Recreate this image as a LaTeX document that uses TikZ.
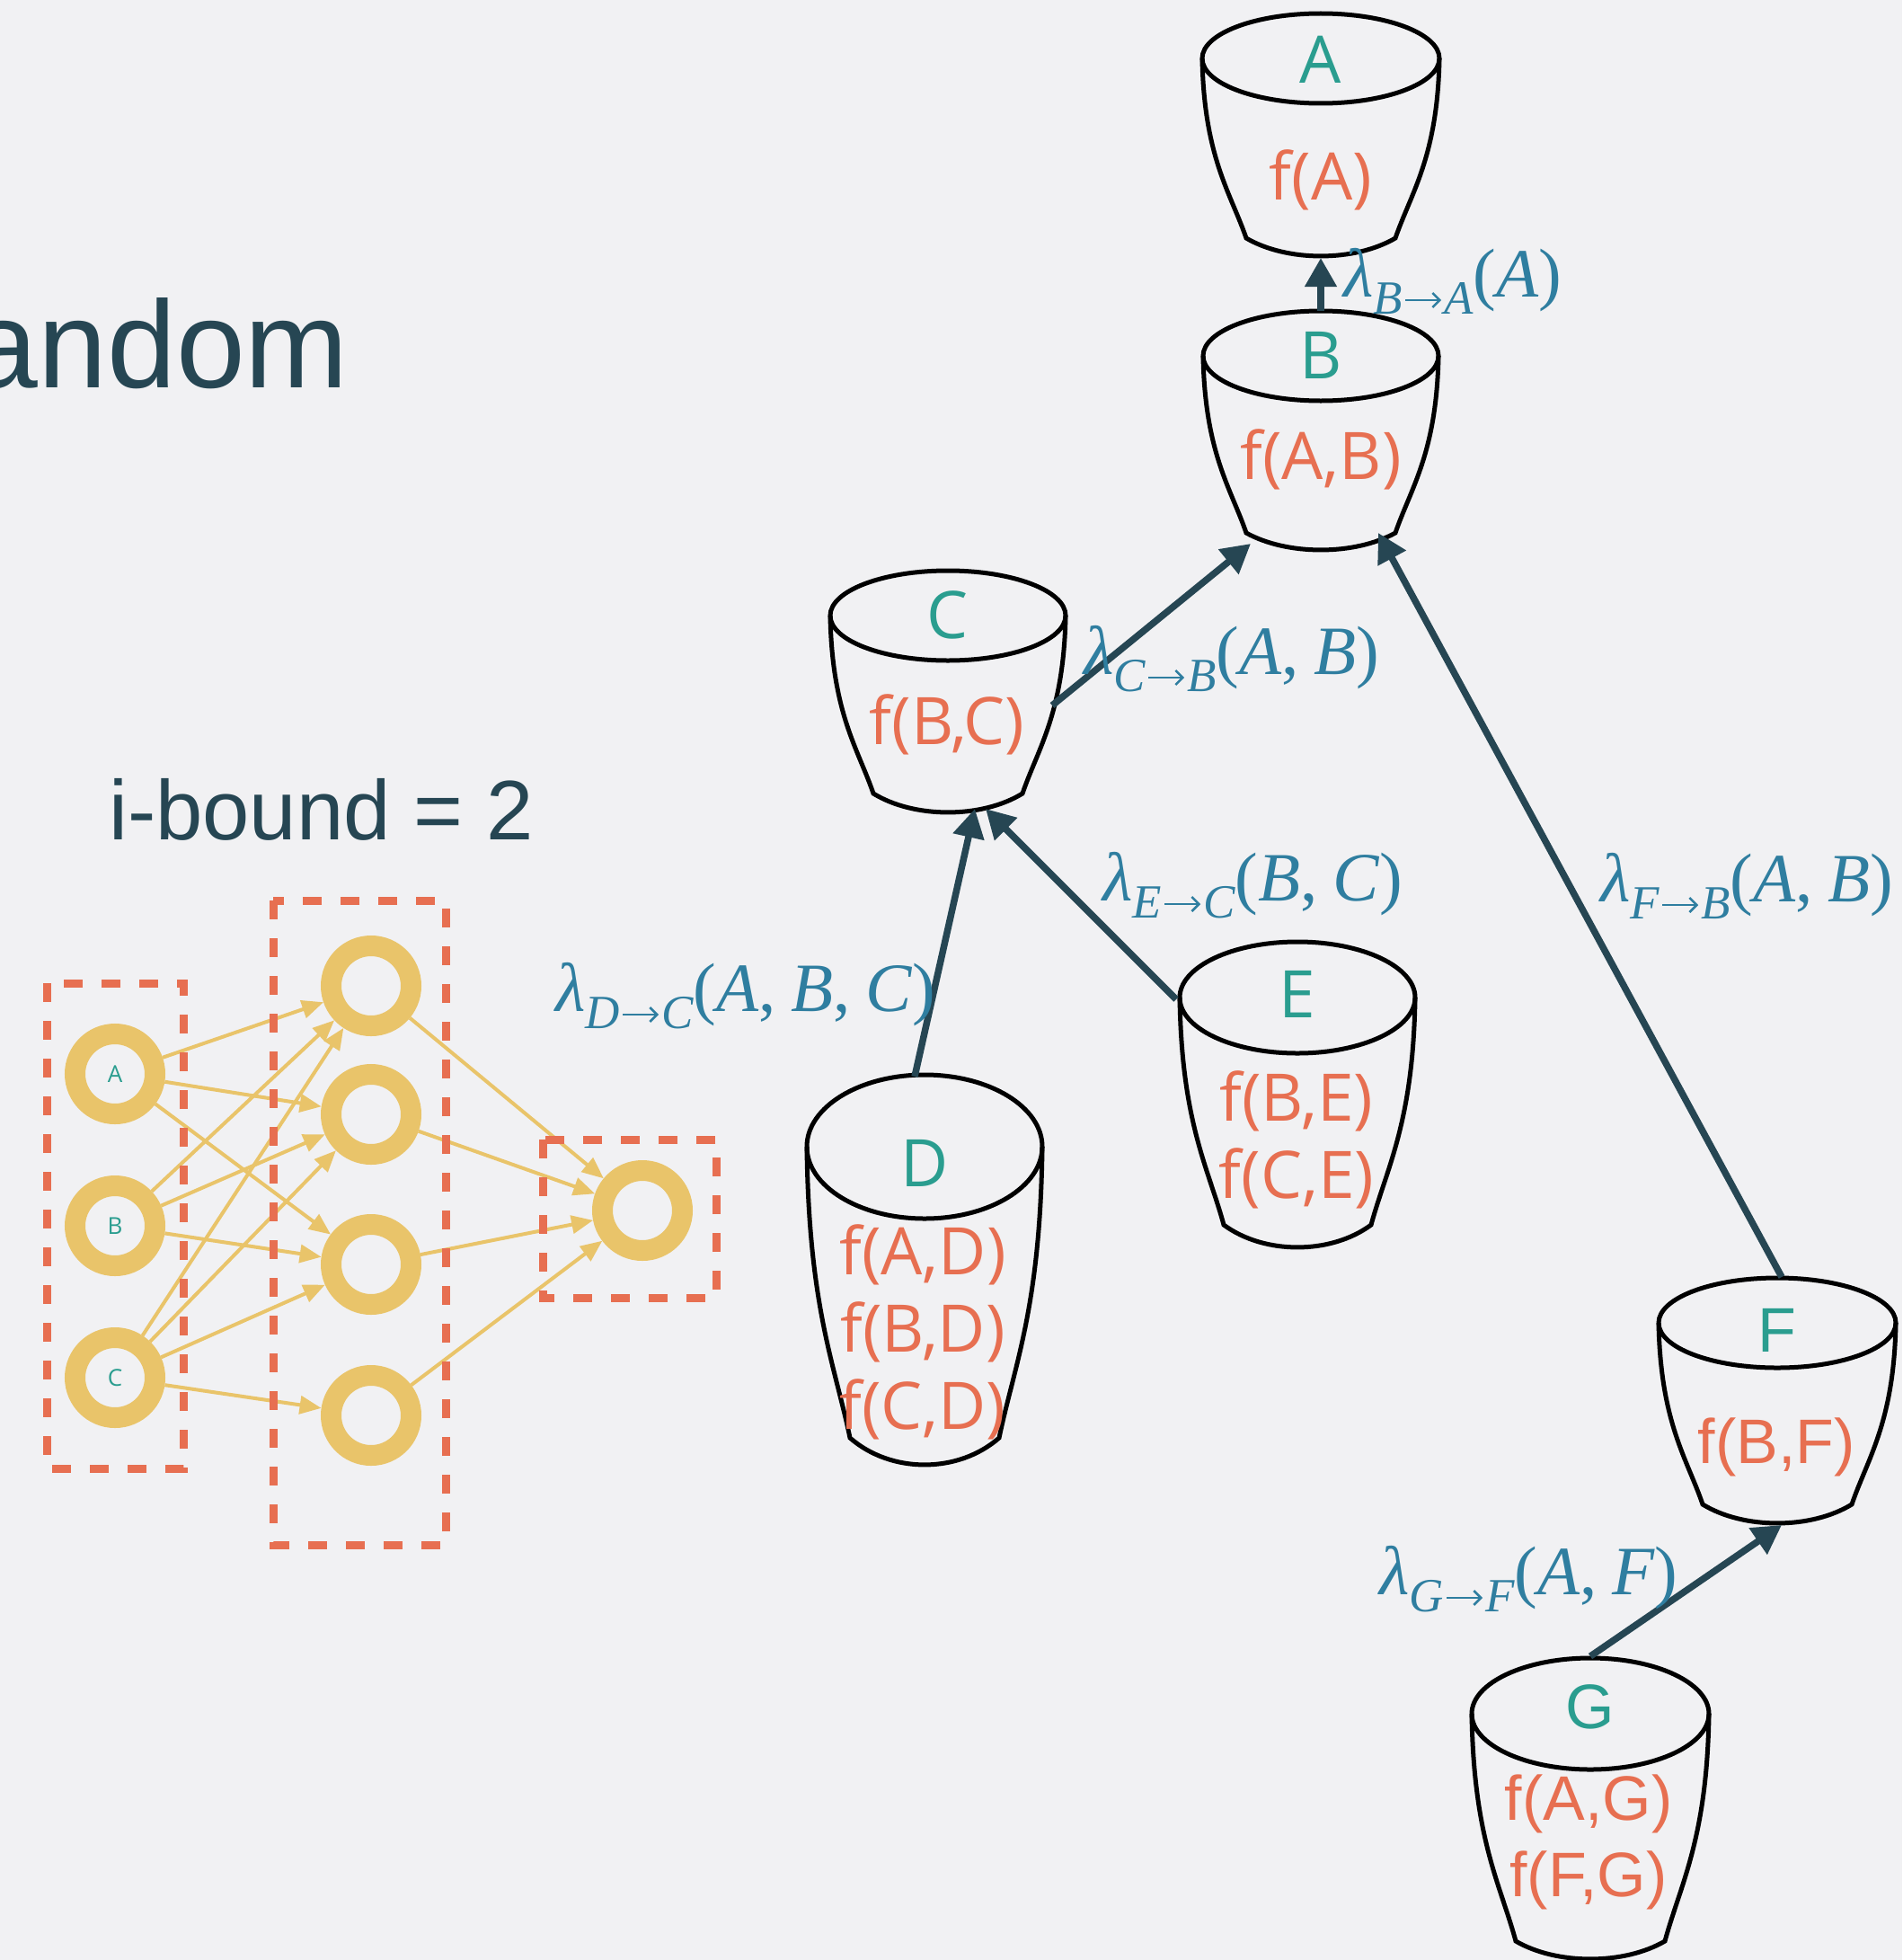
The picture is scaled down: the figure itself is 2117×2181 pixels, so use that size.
\documentclass[tikz,border=0pt]{standalone}
\usepackage{fontspec}
\setmainfont{Liberation Sans}
\newfontfamily\bktfont{Open Sans}
\newfontfamily\hlvfont{Liberation Sans}
\newfontfamily\serfont{Liberation Serif}
\usetikzlibrary{arrows.meta}
\definecolor{bgc}{RGB}{241,241,243}
\definecolor{darkc}{RGB}{38,70,83}
\definecolor{tealc}{RGB}{42,157,143}
\definecolor{orangec}{RGB}{231,111,81}
\definecolor{nnyellow}{RGB}{233,196,106}
\definecolor{bluec}{RGB}{47,126,160}
% bucket: #1 name, #2 cx, #3 ty, #4 rx, #5 ry, #6 by, #7 bw, #8 sag
\newcommand{\drawbucket}[8]{%
  \pgfmathsetmacro{\bH}{#6-#3}%
  \draw[bucketline] (#2,#3) ellipse [x radius=#4, y radius=#5];
  \draw[bucketline] ({#2-#4},#3) .. controls ({#2-#4+2},{#3+0.55*\bH}) and ({#2-#7-0.35*(#4-#7)},{#6-0.25*\bH}) .. ({#2-#7},#6)
    .. controls ({#2-0.45*#7},{#6+1.33*#8}) and ({#2+0.45*#7},{#6+1.33*#8}) .. ({#2+#7},#6)
    .. controls ({#2+#7+0.35*(#4-#7)},{#6-0.25*\bH}) and ({#2+#4-2},{#3+0.55*\bH}) .. ({#2+#4},#3);
  \coordinate (#1) at (#2,#3);
}
\newcommand{\cm}{\upshape,\hspace{0.22em}\itshape}
\newcommand{\sarr}{\tikz[baseline=0pt]\draw[draw=bluec, line width=2.6pt, -{Straight Barb[length=8pt,width=16pt]}] (0pt,15pt) -- (40pt,15pt);}
\newcommand{\lam}[3]{\itshape λ\raisebox{-19pt}{\fontsize{53}{56}\selectfont\itshape #1\hspace{2pt}\sarr\hspace{2pt}\itshape #2}\upshape(\itshape #3\upshape)}
\begin{document}
\begin{tikzpicture}[x=1pt,y=-1pt,
  bucketline/.style={draw=black, line width=5pt},
  vlabel/.style={font=\bktfont\fontsize{73}{78}\selectfont, text=tealc, anchor=base, inner sep=0pt},
  flabel/.style={font=\bktfont\fontsize{73}{78}\selectfont, text=orangec, anchor=base, inner sep=0pt},
  vlabelh/.style={font=\hlvfont\fontsize{70}{75}\selectfont, text=tealc, anchor=base, inner sep=0pt},
  flabelh/.style={font=\hlvfont\fontsize{70}{75}\selectfont, text=orangec, anchor=base, inner sep=0pt},
  msg/.style={draw=darkc, line width=7.5pt, -{Triangle[length=32pt,width=34pt]}},
  lamlabel/.style={font=\serfont\fontsize{77}{82}\selectfont, text=bluec, anchor=base west, inner sep=0pt},
  ring/.style={circle, draw=nnyellow, line width=23pt, minimum size=89pt, inner sep=0pt,
    font=\bktfont\fontsize{26}{30}\selectfont, text=tealc},
  nnedge/.style={draw=nnyellow, line width=4pt, -{Triangle[length=24pt,width=20pt]}},
  dashbox/.style={draw=orangec, line width=9pt, dash pattern=on 21pt off 21pt},
  title/.style={font=\hlvfont\fontsize{138}{150}\selectfont, text=darkc, inner sep=0pt},
  ibound/.style={font=\hlvfont\fontsize{94}{100}\selectfont, text=darkc, inner sep=0pt}
]
\useasboundingbox (0,0) rectangle (2117,2181);
\fill[bgc] (0,0) rectangle (2117,2181);

% titles
\node[title, anchor=base east] (ttl) at (388,431) {andom};
\node[ibound, anchor=base west] (ib) at (121,934) {i-bound = 2};

% buckets
\drawbucket{bA}{1470}{65}{132}{50}{265}{83}{20}
\drawbucket{bB}{1470}{396}{131}{50}{593}{83}{19}
\drawbucket{bC}{1055}{685}{131}{50}{883}{83}{21}
\drawbucket{bD}{1029}{1276}{131}{80}{1600}{83}{30}
\drawbucket{bE}{1444}{1110}{131}{62}{1363}{82}{25}
\drawbucket{bF}{1978}{1472}{132}{50}{1674}{83}{21}
\drawbucket{bG}{1770}{1907}{132}{62}{2160}{83}{20}

% bucket texts
\node[vlabel] (tA) at (1470,93) {A};
\node[flabel] (fA) at (1470,222) {f(A)};
\node[vlabel] (tB) at (1470,421) {B};
\node[flabel] (fB) at (1470,533) {f(A,B)};
\node[vlabel] (tC) at (1055,710) {C};
\node[flabel] (fC) at (1054,828) {f(B,C)};
\node[vlabel] (tD) at (1029,1320) {D};
\node[flabel] (fD1) at (1027,1418) {f(A,D)};
\node[flabel] (fD2) at (1027,1504) {f(B,D)};
\node[flabel] (fD3) at (1027,1590) {f(C,D)};
\node[vlabel] (tE) at (1444,1132) {E};
\node[flabel] (fE1) at (1443,1247) {f(B,E)};
\node[flabel] (fE2) at (1443,1333) {f(C,E)};
\node[vlabelh] (tF) at (1978,1504) {F};
\node[flabelh] (fF) at (1977,1628) {f(B,F)};
\node[vlabelh] (tG) at (1770,1923) {G};
\node[flabelh] (fG1) at (1768,2025) {f(A,G)};
\node[flabelh] (fG2) at (1768,2110) {f(F,G)};

% message connector endpoints
\coordinate (BAs) at (1470,346);
\coordinate (BAe) at (1470,287);
\coordinate (CBs) at (1171,785);
\coordinate (CBe) at (1392,605);
\coordinate (DCs) at (1018,1198);
\coordinate (DCe) at (1085,900);
\coordinate (ECs) at (1309,1112);
\coordinate (ECe) at (1097,900);
\coordinate (FBs) at (1983,1421);
\coordinate (FBe) at (1534,593);
\coordinate (GFs) at (1770,1843);
\coordinate (GFe) at (1983,1697);

\draw[msg] (BAs) -- (BAe);
\draw[msg] (CBs) -- (CBe);
\draw[msg] (DCs) -- (DCe);
\draw[msg] (ECs) -- (ECe);
\draw[msg] (FBs) -- (FBe);
\draw[msg] (GFs) -- (GFe);

% message labels
\node[lamlabel] (lBA) at (1495,330) {\lam{B}{A}{A}};
\node[lamlabel] (lCB) at (1206,750) {\lam{C}{B}{A\cm B}};
\node[lamlabel] (lEC) at (1227,1002) {\lam{E}{C}{B\cm C}};
\node[lamlabel] (lDC) at (618,1125) {\lam{D}{C}{A\cm B\cm C}};
\node[lamlabel] (lFB) at (1781,1003) {\lam{F}{B}{A\cm B}};
\node[lamlabel] (lGF) at (1535,1774) {\lam{G}{F}{A\cm F}};

% neural net
\node[ring] (iA) at (128,1195) {A};
\node[ring] (iB) at (128,1364) {B};
\node[ring] (iC) at (128,1533) {C};
\node[ring] (h1) at (413,1097) {};
\node[ring] (h2) at (413,1240) {};
\node[ring] (h3) at (413,1407) {};
\node[ring] (h4) at (413,1575) {};
\node[ring] (out) at (715,1347) {};

\foreach \s/\t in {iA/h1, iA/h2, iA/h3, iB/h1, iB/h2, iB/h3, iC/h1, iC/h2, iC/h3, iC/h4, h1/out, h2/out, h3/out, h4/out}
  \draw[nnedge] (\s) -- (\t);

\draw[dashbox] (52,1094) rectangle (204,1634);
\draw[dashbox] (304,1002) rectangle (496,1719);
\draw[dashbox] (604,1268) rectangle (797,1444);
\end{tikzpicture}
\end{document}
